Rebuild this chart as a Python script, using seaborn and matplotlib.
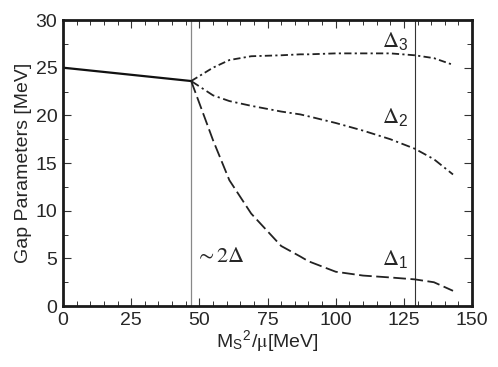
import matplotlib
matplotlib.use("Agg")
import matplotlib.pyplot as plt
from matplotlib.ticker import MultipleLocator
import numpy as np
import pandas as pd
import seaborn as sns

# common (unsplit) gap below the first threshold
x_common = [0, 47]
gap_common = [25.0, 23.6]

# split gaps above the threshold
x_split = [47, 55, 61, 69, 80, 87, 90, 100, 110, 120, 129, 136, 143]
delta1 = [23.6, 17.4, 13.2, 9.7, 6.3, 5.2, 4.7, 3.6, 3.2, 3.0, 2.8, 2.5, 1.6]
delta2 = [23.6, 22.1, 21.5, 21.0, 20.4, 20.1, 19.9, 19.2, 18.4, 17.5, 16.5, 15.4, 13.8]
delta3 = [23.6, 25.0, 25.8, 26.2, 26.3, 26.4, 26.4, 26.5, 26.5, 26.5, 26.3, 26.0, 25.3]

thresholds = [47, 129]

sns.set_style("ticks")
plt.rcParams['font.family'] = ['Liberation Sans', 'DejaVu Sans']
plt.rcParams['mathtext.fontset'] = 'stix'

fig = plt.figure(figsize=(4.98, 3.67), dpi=100)
ax = fig.add_axes([0.1265, 0.166, 0.8215, 0.7795])

common_df = pd.DataFrame({'x': x_common, 'gap': gap_common})
split_df = pd.DataFrame({'x': x_split, 'd1': delta1, 'd2': delta2, 'd3': delta3})

sns.lineplot(data=common_df, x='x', y='gap', ax=ax, color='#111111', lw=1.6)
sns.lineplot(data=split_df, x='x', y='d1', ax=ax, color='#222222', lw=1.3)
ax.lines[-1].set_dashes([7, 2.5])
sns.lineplot(data=split_df, x='x', y='d2', ax=ax, color='#222222', lw=1.3)
ax.lines[-1].set_dashes([5, 2, 1.2, 2])
sns.lineplot(data=split_df, x='x', y='d3', ax=ax, color='#222222', lw=1.3)
ax.lines[-1].set_dashes([4, 1.8, 1.2, 1.8])

ax.axvline(thresholds[0], color='#888888', lw=0.9, zorder=0)
ax.axvline(thresholds[1], color='#333333', lw=0.8, zorder=0)

ax.set_xlim(0, 150)
ax.set_ylim(0, 30)
ax.xaxis.set_major_locator(MultipleLocator(25))
ax.xaxis.set_minor_locator(MultipleLocator(5))
ax.yaxis.set_major_locator(MultipleLocator(5))
ax.yaxis.set_minor_locator(MultipleLocator(2.5))
ax.tick_params(which='both', direction='in', top=True, right=True, color='#333333')
ax.tick_params(which='major', length=6, width=0.8, labelsize=14, pad=4)
ax.tick_params(which='minor', length=3.5, width=0.7)
for s in ax.spines.values():
    s.set_linewidth(2.0)
    s.set_color('#1a1a1a')

ax.set_xlabel(r'M$_\mathregular{S}$$^\mathregular{2}$/$\mathrm{\mu}$[MeV]', fontsize=14, labelpad=0)
ax.set_ylabel('Gap Parameters [MeV]', fontsize=14, labelpad=3)

ax.text(116.8, 27.8, r'$\Delta_\mathregular{3}$', fontsize=16, va='center')
ax.text(116.8, 19.8, r'$\Delta_\mathregular{2}$', fontsize=16, va='center')
ax.text(116.8, 4.9, r'$\Delta_\mathregular{1}$', fontsize=16, va='center')
ax.text(48.5, 5.2, r'$\sim 2\Delta$', fontsize=16, va='center')

fig.savefig('out.png', dpi=100)
